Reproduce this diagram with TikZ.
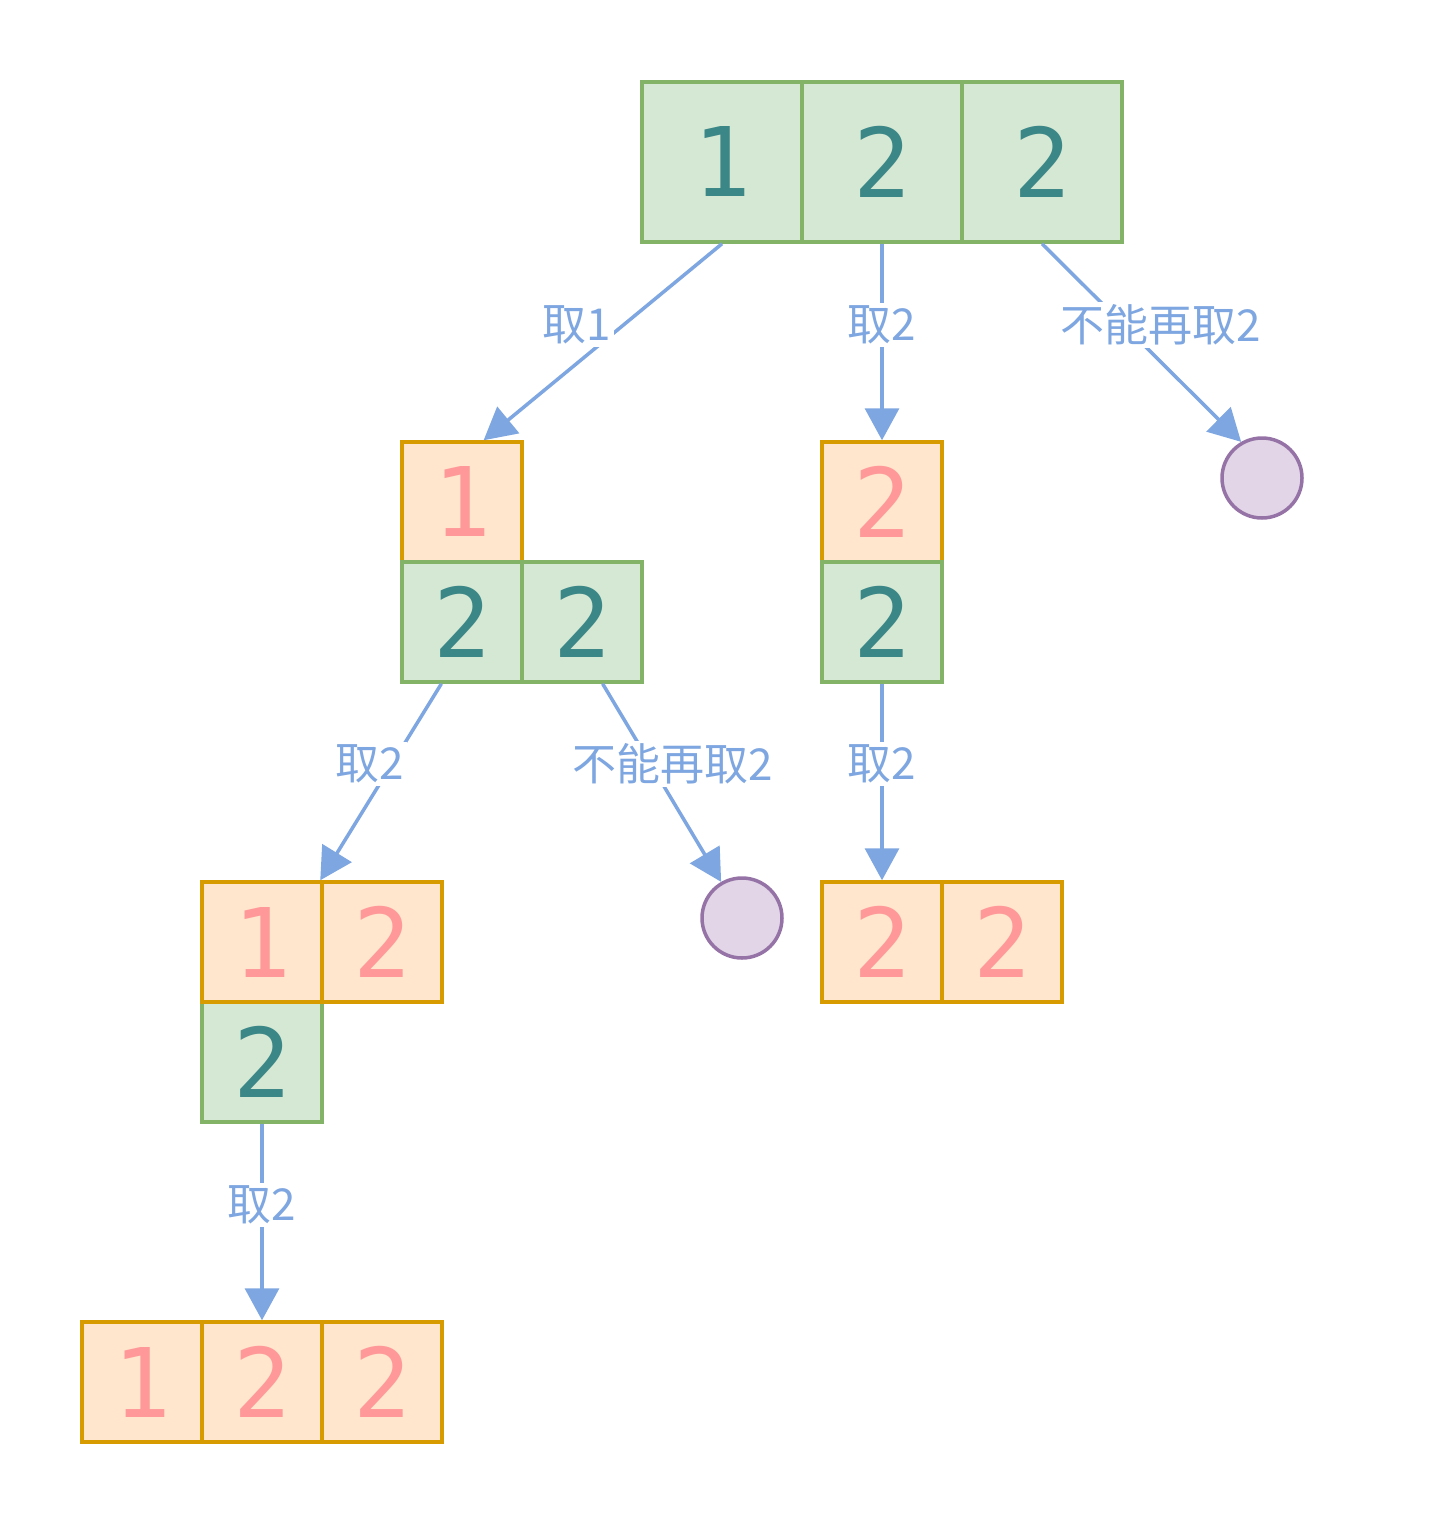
\documentclass[tikz,border=0pt]{standalone}
\usepackage{fontspec}
\usetikzlibrary{arrows.meta,calc}
\newfontfamily\cjkfont{Noto Sans CJK SC}
\newfontfamily\digitfont{DejaVu Sans Mono}
\definecolor{gfill}{HTML}{D5E8D4}
\definecolor{gline}{HTML}{82B366}
\definecolor{gtext}{HTML}{3B8686}
\definecolor{ofill}{HTML}{FFE6CC}
\definecolor{oline}{HTML}{D79B00}
\definecolor{otext}{HTML}{FF9999}
\definecolor{pfill}{HTML}{E1D5E7}
\definecolor{pline}{HTML}{9673A6}
\definecolor{arrowc}{HTML}{7EA6E0}
\begin{document}
\begin{tikzpicture}[x=1pt,y=-1pt,
  cell/.style={draw, line width=3.5pt, inner sep=0pt,
    font=\digitfont\fontsize{96}{96}\selectfont},
  big/.style={cell, minimum size=160pt},
  small/.style={cell, minimum size=120pt},
  gcell/.style={fill=gfill, draw=gline, text=gtext},
  ocell/.style={fill=ofill, draw=oline, text=otext},
  endpt/.style={circle, draw=pline, fill=pfill, line width=3.5pt,
    minimum size=80pt, inner sep=0pt},
  edge/.style={draw=arrowc, line width=3.5pt,
    -{Triangle[length=32pt,width=34pt]}},
  lbl/.style={fill=white, text=arrowc, inner sep=3pt,
    font=\cjkfont\fontsize{44}{44}\selectfont}]
\useasboundingbox (0,0) rectangle (1448,1528);

% root: 1 2 2
\node[big,gcell] (a1) at (722,162) {1};
\node[big,gcell] (a2) at (882,162) {2};
\node[big,gcell] (a3) at (1042,162) {2};

% after taking 1
\node[small,ocell] (b1) at (462,502) {1};
\node[small,gcell] (b2) at (462,622) {2};
\node[small,gcell] (b3) at (582,622) {2};

% after taking 2
\node[small,ocell] (c1) at (882,502) {2};
\node[small,gcell] (c2) at (882,622) {2};

% pruned branches
\node[endpt] (e1) at (1262,478) {};
\node[endpt] (e2) at (742,918) {};

% after taking 1,2
\node[small,gcell] (d3) at (262,1062) {2};
\node[small,ocell] (d1) at (262,942) {1};
\node[small,ocell] (d2) at (382,942) {2};

% after taking 2,2
\node[small,ocell] (f1) at (882,942) {2};
\node[small,ocell] (f2) at (1002,942) {2};

% full subset 1,2,2
\node[small,ocell] (g1) at (142,1382) {1};
\node[small,ocell] (g2) at (262,1382) {2};
\node[small,ocell] (g3) at (382,1382) {2};

% branches
\draw[edge] (a1.south) -- ($(b1.north west)!0.675!(b1.north east)$);
\draw[edge] (a2.south) -- (c1.north);
\draw[edge] (a3.south) -- (e1.120);
\draw[edge] ($(b2.south west)!0.333!(b2.south east)$) -- (d2.north west);
\draw[edge] ($(b3.south west)!0.667!(b3.south east)$) -- (e2.120);
\draw[edge] (c2.south) -- (f1.north);
\draw[edge] (d3.south) -- (g2.north);

% branch labels
\node[lbl] (t1) at (577,325) {取1};
\node[lbl] (t2) at (882,325) {取2};
\node[lbl] (t3) at (1161,325) {不能再取2};
\node[lbl] (t4) at (370,764) {取2};
\node[lbl] (t5) at (673,764) {不能再取2};
\node[lbl] (t6) at (882,764) {取2};
\node[lbl] (t7) at (262,1205) {取2};
\end{tikzpicture}
\end{document}
